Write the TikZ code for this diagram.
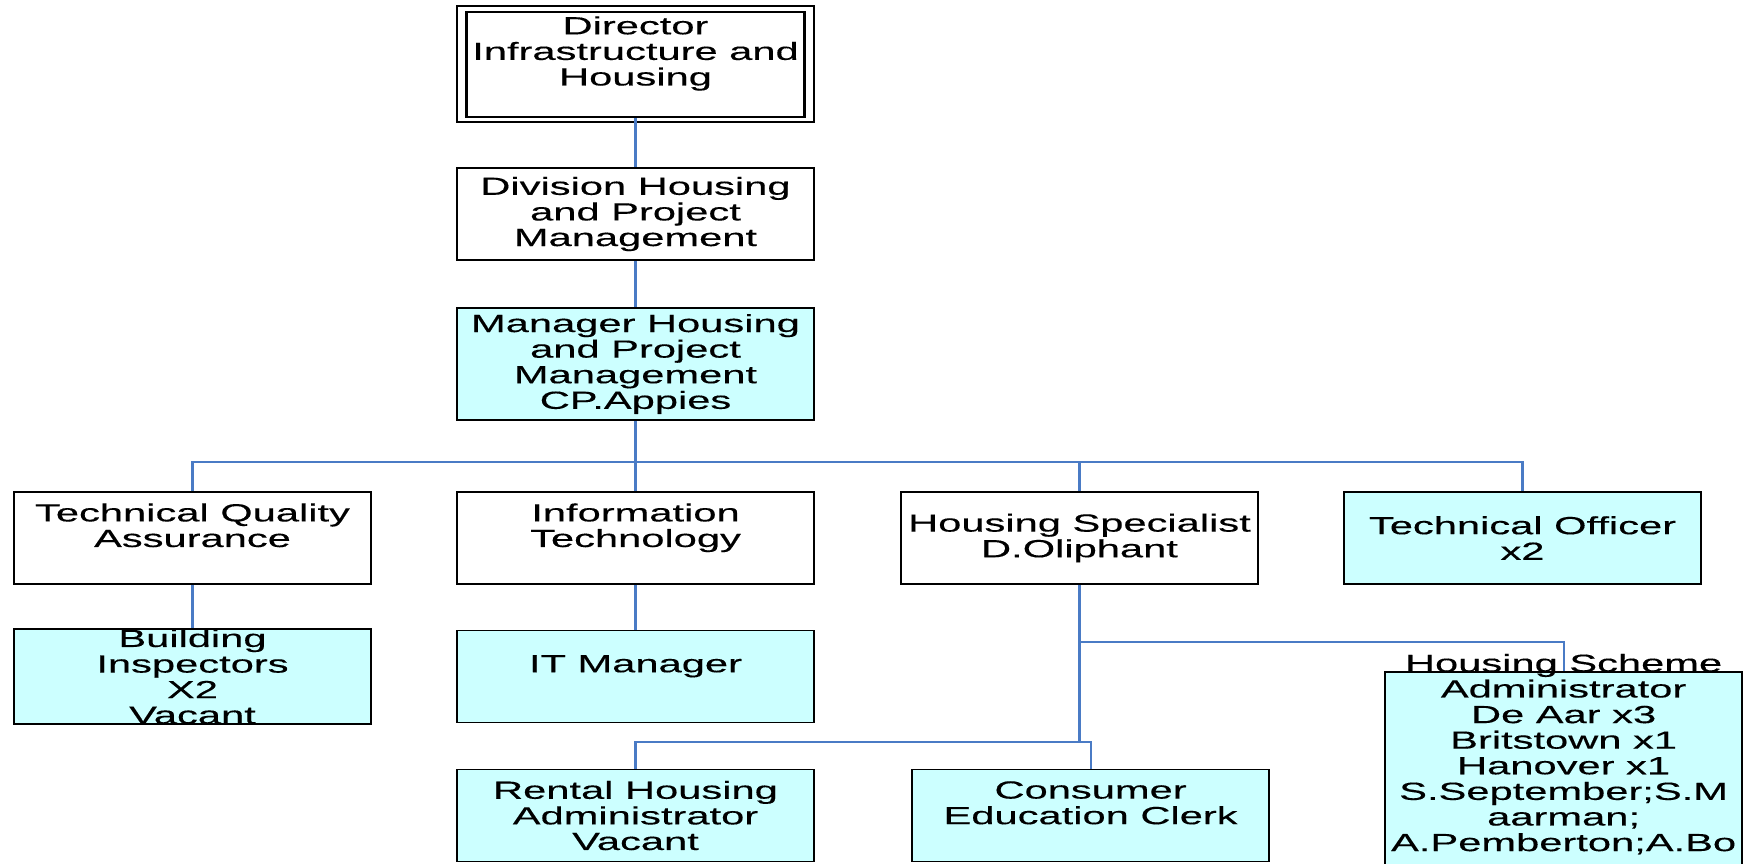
\documentclass[tikz,border=0pt]{standalone}
\usepackage{fontspec}
\newfontfamily\orgfont[FakeStretch=1.68, FakeBold=0.3]{Liberation Sans}
\begin{document}
\begin{tikzpicture}[x=1pt, y=-1pt,
  box/.style={draw, line width=1.8pt, minimum width=357pt, minimum height=92pt, inner sep=0pt, align=center, font=\orgfont\fontsize{24.8}{25.6}\selectfont},
  cbox/.style={box, fill=cyanbox},
  link/.style={draw=linkblue, line width=2.2pt}]
\definecolor{cyanbox}{HTML}{CCFFFF}
\definecolor{linkblue}{HTML}{4A7BC5}
\useasboundingbox (0,0) rectangle (1745,863);
\clip (0,0) rectangle (1745,863);
\node[box, line width=1.7pt, minimum height=116pt] (dir) at (635.5,63.7) {Director\\Infrastructure and\\Housing\\\mbox{}};
\node[draw, line width=2.4pt, minimum width=338pt, minimum height=105pt] (dirframe) at (635.5,64.3) {};
\node[box] (div) at (635.5,214) {Division Housing\\and Project\\Management};
\node[cbox, minimum height=112pt] (mgr) at (635.5,364) {Manager Housing\\and Project\\Management\\CP.Appies};
\node[box] (tqa) at (192.5,538) {Technical Quality\\Assurance\\\mbox{}};
\node[box] (it) at (635.5,538) {Information\\Technology\\\mbox{}};
\node[box] (hs) at (1079.5,538) {Housing Specialist\\D.Oliphant};
\node[cbox] (to) at (1522.5,538) {Technical Officer\\x2};
\node[cbox] (bi) at (192.5,676.5) {Building\\Inspectors\\X2\\Vacant};
\node[cbox] (itm) at (635.5,676.5) {IT Manager\\\mbox{}};
\node[cbox] (rha) at (635.5,815.5) {Rental Housing\\Administrator\\Vacant};
\node[cbox] (ce) at (1090.6,815.5) {Consumer\\Education Clerk\\\mbox{}};
\node[cbox, minimum height=260pt, anchor=north] (hsa) at (1563.6,671) {};
\node[box, draw=none, anchor=north] (hsatext) at (1563.6,653) {Housing Scheme\\Administrator\\De Aar x3\\Britstown x1\\Hanover x1\\S.September;S.M\\aarman;\\A.Pemberton;A.Bo};
\coordinate (bus) at (635.5,462);
\coordinate (midbus) at (1079.5,641.7);
\coordinate (lowbus) at (1079.5,741.7);
\draw[link] (dirframe.south) -- (div.north);
\draw[link] (div.south) -- (mgr.north);
\draw[link] (mgr.south) -- (it.north);
\draw[link] (tqa.north) |- (bus) -| (to.north);
\draw[link] (bus) -| (hs.north);
\draw[link] (tqa.south) -- (bi.north);
\draw[link] (it.south) -- (itm.north);
\draw[link] (hs.south) -- (lowbus);
\draw[link] (midbus) -| (hsa.north);
\draw[link] (rha.north) |- (lowbus) -| (ce.north);
\end{tikzpicture}
\end{document}
